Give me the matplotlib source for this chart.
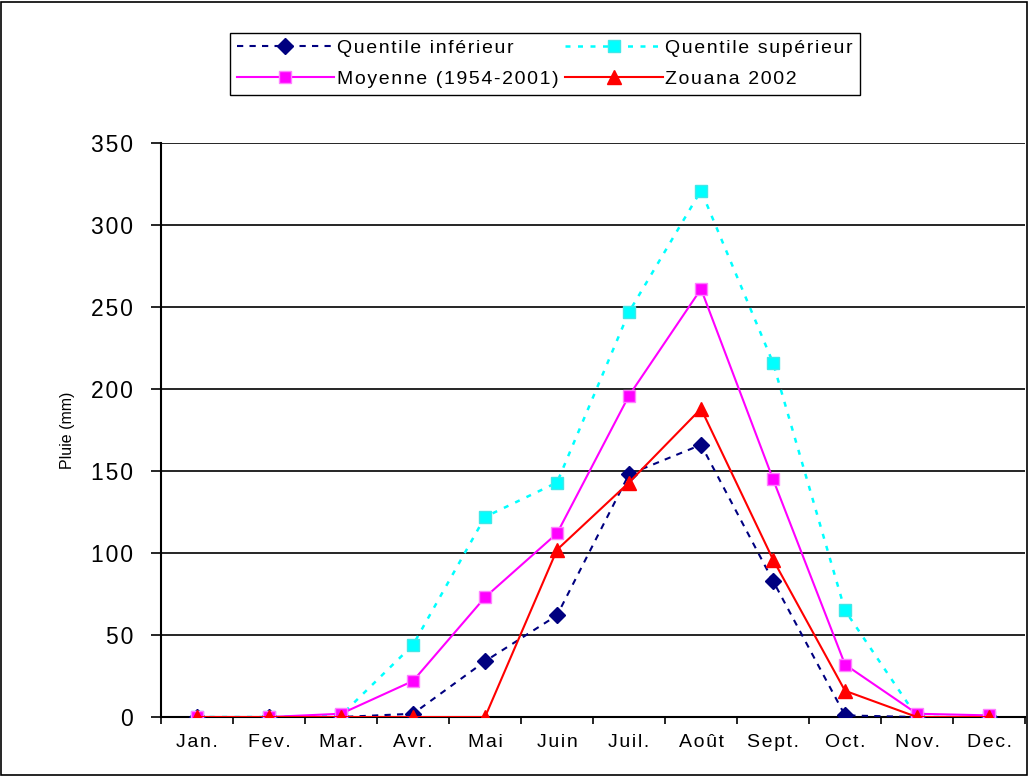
import matplotlib.pyplot as plt
from matplotlib.patches import Rectangle
from matplotlib.ticker import FuncFormatter

# Données mensuelles de pluie (mm)
mois = ['Jan.', 'Fev.', 'Mar.', 'Avr.', 'Mai', 'Juin', 'Juil.', 'Août', 'Sept.', 'Oct.', 'Nov.', 'Dec.']
quentile_inf = [0, 0, 0, 2, 34, 62, 148, 166, 83, 1, 0, 0]
quentile_sup = [0, 0, 1, 44, 122, 143, 247, 321, 216, 65, 0, 0]
moyenne = [0, 0, 2, 22, 73, 112, 196, 261, 145, 32, 2, 1]
zouana_2002 = [0, 0, 0, 0, 0, 102, 143, 188, 96, 16, 0, 0]

plt.rcParams['font.family'] = ['Liberation Sans', 'DejaVu Sans']


def espacer(texte):
    # lettres espacées comme dans l'original
    return '\u200a'.join(texte)


fig = plt.figure(figsize=(10.31, 7.76), dpi=100)
ax = fig.add_axes([0.1562, 0.076, 0.838, 0.7397])

x = list(range(len(mois)))
l_inf, = ax.plot(x, quentile_inf, color='#000080', linestyle=(0, (3, 3)), linewidth=1.5,
                 marker='D', markersize=8, label='Quentile inférieur', zorder=3)
l_sup, = ax.plot(x, quentile_sup, color='#00FFFF', linestyle=(0, (2, 3)), linewidth=1.8,
                 marker='s', markersize=8.5, markeredgecolor='#40E8E8', label='Quentile supérieur', zorder=3)
l_moy, = ax.plot(x, moyenne, color='#FF00FF', linestyle='-', linewidth=1.5,
                 marker='s', markersize=8.5, markerfacecolor='#FF00FF', markeredgecolor='#FF80FF',
                 label='Moyenne (1954-2001)', zorder=4)
l_zou, = ax.plot(x, zouana_2002, color='#FF0000', linestyle='-', linewidth=1.5,
                 marker='^', markersize=10, label='Zouana 2002', zorder=5)

ax.set_xlim(-0.5, 11.5)
ax.set_ylim(0, 350)
ax.set_yticks(range(0, 351, 50))
ax.yaxis.set_major_formatter(FuncFormatter(lambda v, p: espacer(str(int(v)))))
ax.grid(axis='y', color='black', linewidth=1.2)
ax.set_axisbelow(True)

ax.set_xticks(x)
ax.set_xticklabels([espacer(m) for m in mois], fontsize=14)
ax.set_xticks([i - 0.5 for i in range(13)], minor=True)
ax.tick_params(axis='x', which='major', length=0, pad=12)
ax.tick_params(axis='x', which='minor', length=5, width=1.2, direction='out')
ax.tick_params(axis='y', length=7, width=1.2, labelsize=16.5, pad=13)

for side in ['top', 'right']:
    ax.spines[side].set_visible(False)
ax.spines['left'].set_linewidth(1.5)
ax.spines['bottom'].set_linewidth(1.5)

ax.set_ylabel('Pluie (mm)', fontsize=11.5, labelpad=12)

poignees = [l_inf, l_moy, l_sup, l_zou]
fig.legend(poignees, [espacer(h.get_label()) for h in poignees],
           loc='upper left', bbox_to_anchor=(0.223, 0.958), ncol=2, fontsize=14,
           frameon=True, fancybox=False, edgecolor='black', framealpha=1,
           handlelength=5.0, handletextpad=0.15, columnspacing=0.35,
           borderpad=0.35, labelspacing=0.7, borderaxespad=0)

fig.patches.append(Rectangle((0.001, 0.001), 0.995, 0.997, transform=fig.transFigure,
                             fill=False, edgecolor='black', linewidth=1.2))

fig.savefig('out.png', dpi=100)
